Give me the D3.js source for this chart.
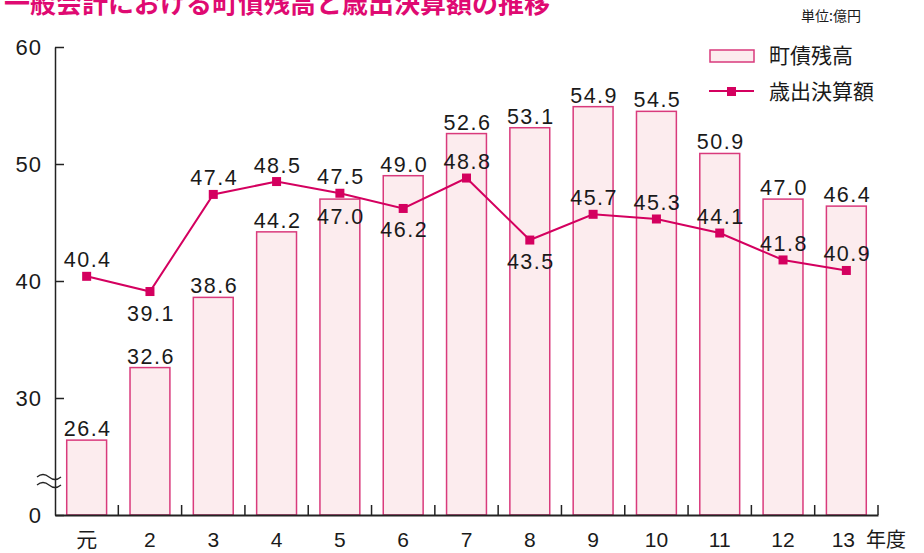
<!DOCTYPE html>
<html>
<head>
<meta charset="utf-8">
<script src="https://cdn.jsdelivr.net/npm/d3@7"></script>
<style>
  body { margin: 0; background: #fff; }
  svg { display: block; }
  text { font-family: "Liberation Sans", Arial, sans-serif; fill: #1a1a1a; }
  .jp { font-family: "Noto Sans CJK JP", sans-serif; }
  .num { font-family: "Liberation Sans", Arial, sans-serif; }
</style>
</head>
<body>
<div id="chart"></div>
<script>
// years (平成)
var years = ["元", "2", "3", "4", "5", "6", "7", "8", "9", "10", "11", "12", "13"];
// 町債残高 (億円)
var debt = [26.4, 32.6, 38.6, 44.2, 47.0, 49.0, 52.6, 53.1, 54.9, 54.5, 50.9, 47.0, 46.4];
// 歳出決算額 (億円)
var spend = [40.4, 39.1, 47.4, 48.5, 47.5, 46.2, 48.8, 43.5, 45.7, 45.3, 44.1, 41.8, 40.9];
// axis is broken below 20, the 20 line is labelled "0"
var yTicks = [20, 30, 40, 50, 60];
var yTickLabels = ["0", "30", "40", "50", "60"];

var pink = "#d4005f";
var barStroke = "#d93a7c";
var barFill = "#fcecee";

var width = 924, height = 553;
var svg = d3.select("#chart").append("svg")
    .attr("width", width)
    .attr("height", height);

var x = d3.scaleBand()
    .domain(years)
    .range([55, 878])
    .paddingInner(0.37)
    .paddingOuter(0.185);

var y = d3.scaleLinear()
    .domain([20, 60])
    .range([515, 47]);

// title (cut at the top like the original)
svg.append("text")
    .attr("class", "jp")
    .attr("x", 4)
    .attr("y", 13)
    .style("font-size", "26px")
    .style("font-weight", "bold")
    .style("fill", "#df0a72")
    .text("一般会計における町債残高と歳出決算額の推移");

svg.append("text")
    .attr("class", "jp")
    .attr("x", 801)
    .attr("y", 21)
    .style("font-size", "14px")
    .text("単位:億円");

// y axis
var yAxis = d3.axisLeft(y)
    .tickValues(yTicks)
    .tickFormat(function(d, i) { return yTickLabels[i]; })
    .tickSizeInner(-9)
    .tickSizeOuter(0)
    .tickPadding(13);

var gy = svg.append("g")
    .attr("transform", "translate(55,0)")
    .call(yAxis);
gy.select(".domain").attr("stroke", "#222").attr("stroke-width", 1.5);
gy.selectAll(".tick line").attr("stroke", "#222").attr("stroke-width", 1.5);
gy.selectAll(".tick text")
    .attr("class", "num")
    .style("font-size", "22px")
    .style("letter-spacing", "1px")
    .attr("fill", "#1a1a1a");

// bars
svg.selectAll(".bar")
    .data(debt)
    .enter().append("rect")
    .attr("class", "bar")
    .attr("x", function(d, i) { return x(years[i]); })
    .attr("y", function(d) { return y(d); })
    .attr("width", x.bandwidth())
    .attr("height", function(d) { return y(20) - y(d); })
    .attr("fill", barFill)
    .attr("stroke", barStroke)
    .attr("stroke-width", 1.5);

// x axis
var xAxis = d3.axisBottom(x).tickSize(0).tickPadding(17);
var gx = svg.append("g")
    .attr("transform", "translate(0," + y(20) + ")")
    .call(xAxis);
gx.select(".domain").attr("stroke", "#222").attr("stroke-width", 2.2);
gx.selectAll(".tick text")
    .attr("class", function(d) { return d === "元" ? "jp" : "num"; })
    .style("font-size", "21px")
    .attr("fill", "#1a1a1a");
gx.selectAll(".tick text").filter(function(d) { return d === "13"; })
    .attr("dx", -3);

svg.append("text")
    .attr("class", "jp")
    .attr("x", 866)
    .attr("y", 547)
    .style("font-size", "20px")
    .text("年度");

// small up ticks between the years
var bounds = years.map(function(d) { return x(d) + x.bandwidth() + (x.step() - x.bandwidth()) / 2; });
svg.selectAll(".xtick")
    .data(bounds)
    .enter().append("line")
    .attr("x1", function(d) { return d; })
    .attr("x2", function(d) { return d; })
    .attr("y1", y(20))
    .attr("y2", y(20) - 10)
    .attr("stroke", "#222")
    .attr("stroke-width", 1.5);

// break mark on the y axis
[477, 485].forEach(function(yy) {
  svg.append("path")
    .attr("d", "M37," + yy + " q6,-5 12,0 t12,0")
    .attr("fill", "none")
    .attr("stroke", "#222")
    .attr("stroke-width", 1.3);
});

// line
var line = d3.line()
    .x(function(d, i) { return x(years[i]) + x.bandwidth() / 2; })
    .y(function(d) { return y(d); });

svg.append("path")
    .datum(spend)
    .attr("d", line)
    .attr("fill", "none")
    .attr("stroke", pink)
    .attr("stroke-width", 2);

svg.selectAll(".pt")
    .data(spend)
    .enter().append("rect")
    .attr("class", "pt")
    .attr("x", function(d, i) { return x(years[i]) + x.bandwidth() / 2 - 4.5; })
    .attr("y", function(d) { return y(d) - 4.5; })
    .attr("width", 9)
    .attr("height", 9)
    .attr("fill", pink);

// labels: line value goes under the point when it is a dip
function isDip(i) {
  var v = spend[i];
  var prev = i > 0 ? spend[i - 1] : null;
  var next = i < spend.length - 1 ? spend[i + 1] : null;
  return prev !== null && next !== null && v < prev && v < next;
}

var labelStyle = function(sel) {
  sel.attr("class", "num")
    .style("font-size", "21.5px")
    .style("letter-spacing", "1.5px")
    .attr("text-anchor", "middle");
};

svg.selectAll(".lineLabel")
    .data(spend)
    .enter().append("text")
    .attr("x", function(d, i) { return x(years[i]) + x.bandwidth() / 2 + 1; })
    .attr("y", function(d, i) { return isDip(i) ? y(d) + 29 : y(d) - 9; })
    .text(function(d) { return d.toFixed(1); })
    .call(labelStyle);

svg.selectAll(".barLabel")
    .data(debt)
    .enter().append("text")
    .attr("x", function(d, i) { return x(years[i]) + x.bandwidth() / 2 + 1; })
    .attr("y", function(d, i) {
      // would hit the line label: put it inside the bar
      if (!isDip(i) && Math.abs(d - spend[i]) < 1) return y(d) + 25;
      return y(d) - 4;
    })
    .text(function(d) { return d.toFixed(1); })
    .call(labelStyle);

// legend
var lg = svg.append("g");
lg.append("rect")
    .attr("x", 710).attr("y", 50)
    .attr("width", 44).attr("height", 12)
    .attr("fill", barFill)
    .attr("stroke", barStroke)
    .attr("stroke-width", 1.5);
lg.append("text")
    .attr("class", "jp")
    .attr("x", 769).attr("y", 63)
    .style("font-size", "21px")
    .text("町債残高");
lg.append("line")
    .attr("x1", 709).attr("x2", 754)
    .attr("y1", 91).attr("y2", 91)
    .attr("stroke", pink).attr("stroke-width", 2);
lg.append("rect")
    .attr("x", 727).attr("y", 87)
    .attr("width", 9).attr("height", 9)
    .attr("fill", pink);
lg.append("text")
    .attr("class", "jp")
    .attr("x", 769).attr("y", 99)
    .style("font-size", "21px")
    .text("歳出決算額");
</script>
</body>
</html>
